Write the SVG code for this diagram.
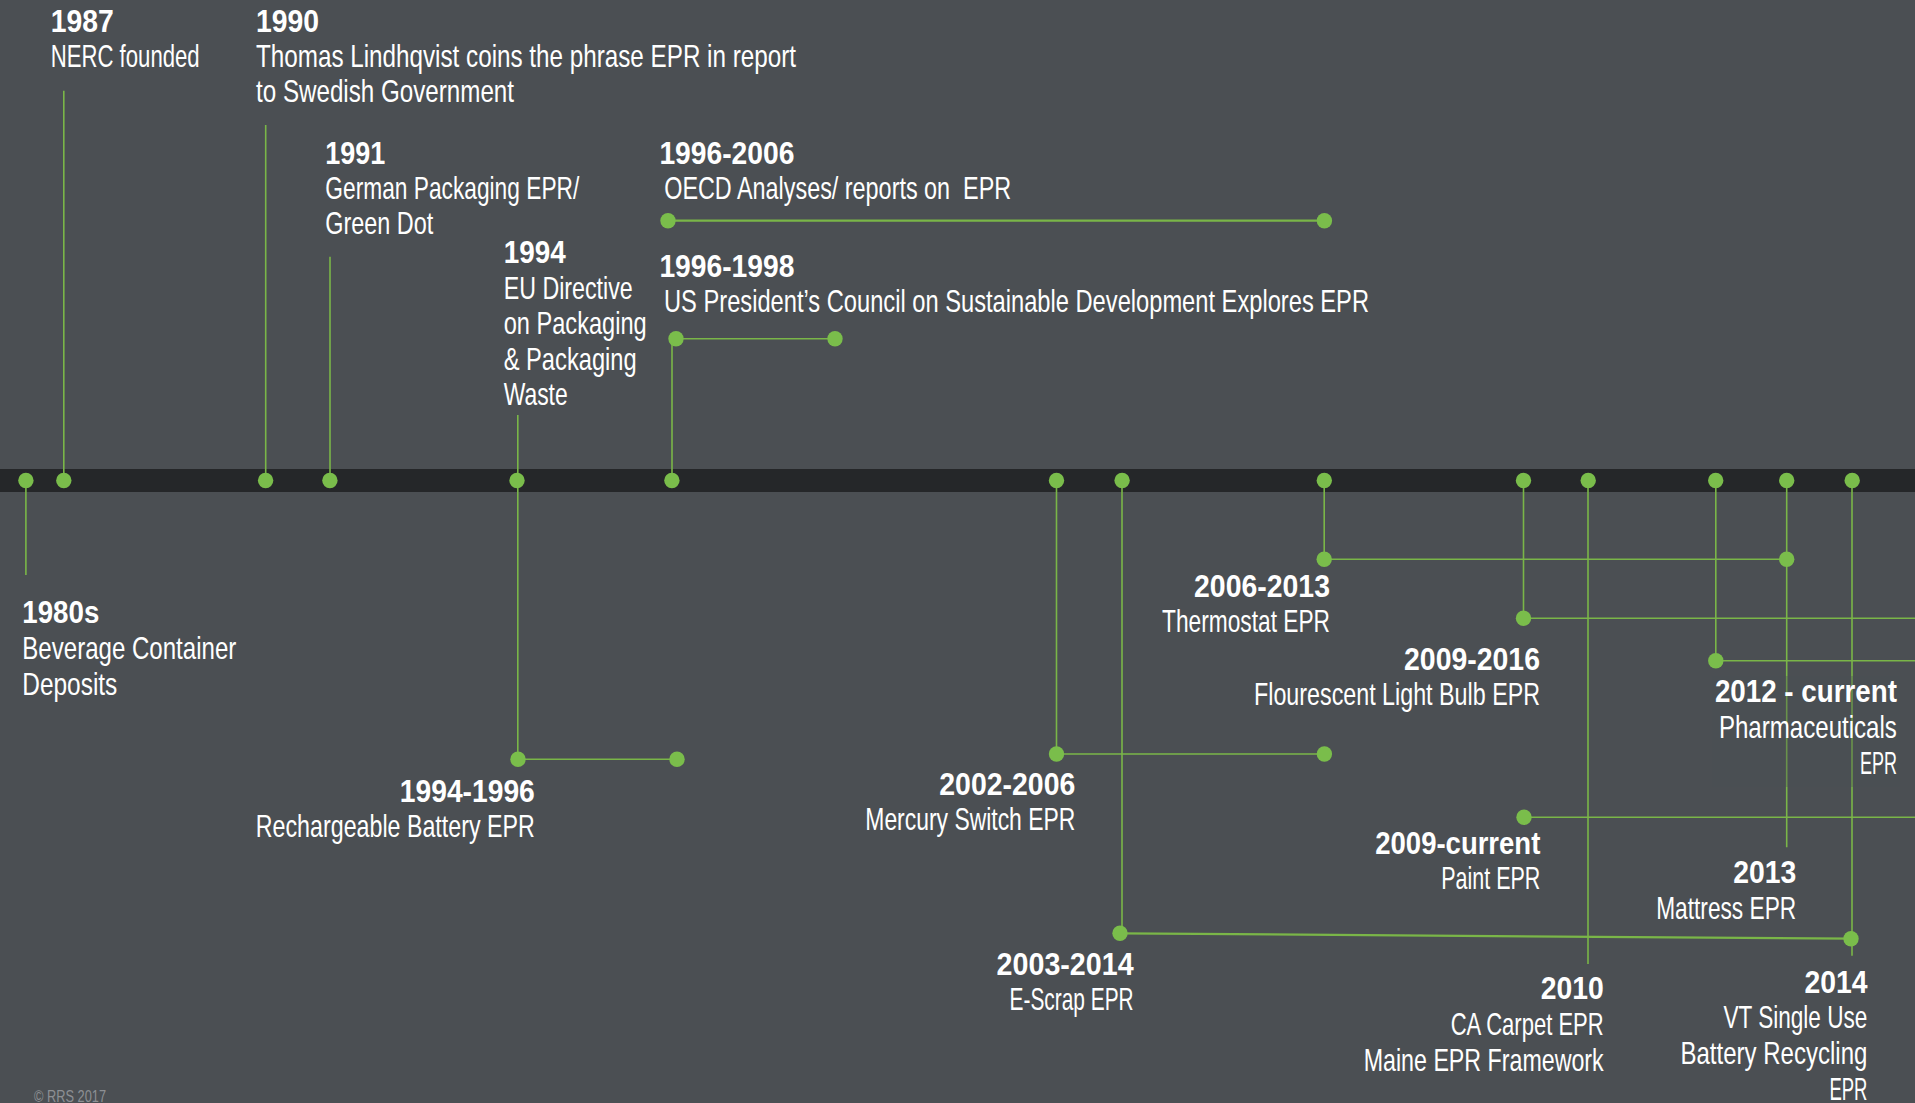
<svg xmlns="http://www.w3.org/2000/svg" width="1915" height="1103" viewBox="0 0 1915 1103">
<style>
.yr{font-family:"Liberation Sans Narrow","Liberation Sans",Arial,sans-serif;font-weight:bold;font-size:31.5px;fill:#ffffff}
.tx{font-family:"Liberation Sans Narrow","Liberation Sans",Arial,sans-serif;font-size:31.5px;fill:#ffffff}
.r{text-anchor:end}
.cp{font-family:"Liberation Sans Narrow","Liberation Sans",Arial,sans-serif;font-size:16px;fill:#8d9094}
.ln{stroke:#7ab648;stroke-width:1.6;fill:none}
.lw{stroke:#7ab648;stroke-width:2.2;fill:none}
.dot{fill:#7abd4b}
</style>
<rect x="0" y="0" width="1915" height="1103" fill="#4b4f53"/>
<rect x="0" y="469" width="1915" height="23" fill="#252729"/>

<g id="connectors">
  <line class="ln" x1="63.8" y1="90.7" x2="63.8" y2="480.5"/>
  <line class="ln" x1="265.7" y1="125" x2="265.7" y2="480.5"/>
  <line class="ln" x1="330" y1="256.7" x2="330" y2="480.5"/>
  <line class="ln" x1="517.8" y1="415" x2="517.8" y2="759.3"/>
  <line class="ln" x1="672" y1="339" x2="672" y2="480.5"/>
  <line class="ln" x1="25.9" y1="480.5" x2="25.9" y2="575"/>
  <line class="ln" x1="1056.5" y1="480.5" x2="1056.5" y2="754"/>
  <line class="ln" x1="1122" y1="480.5" x2="1122" y2="933.3"/>
  <line class="ln" x1="1324.2" y1="480.5" x2="1324.2" y2="559.3"/>
  <line class="ln" x1="1523.5" y1="480.5" x2="1523.5" y2="618.3"/>
  <line class="ln" x1="1588" y1="480.5" x2="1588" y2="964"/>
  <line class="ln" x1="1715.8" y1="480.5" x2="1715.8" y2="660.7"/>
  <line class="ln" x1="1786.7" y1="480.5" x2="1786.7" y2="847.3"/>
  <line class="ln" x1="1852" y1="480.5" x2="1852" y2="955.7"/>
  <line class="lw" x1="668" y1="220.7" x2="1324.4" y2="220.7"/>
  <line class="ln" x1="676" y1="338.7" x2="835" y2="338.7"/>
  <line class="ln" x1="518" y1="759.3" x2="677" y2="759.3"/>
  <line class="ln" x1="1056.5" y1="754" x2="1324.4" y2="754"/>
  <line class="ln" x1="1324.2" y1="559.3" x2="1786.7" y2="559.3"/>
  <line class="ln" x1="1523.5" y1="618.3" x2="1915" y2="618.3"/>
  <line class="ln" x1="1715.8" y1="660.7" x2="1915" y2="660.7"/>
  <line class="ln" x1="1524" y1="817.3" x2="1915" y2="817.3"/>
  <line class="lw" x1="1120" y1="933.3" x2="1851" y2="938.7"/>
</g>
<rect x="1712" y="676" width="188" height="111" fill="#4b4f53" opacity="0.35"/>

<g id="band-dots">
  <circle class="dot" cx="25.9" cy="480.5" r="7.7"/>
  <circle class="dot" cx="63.8" cy="480.5" r="7.7"/>
  <circle class="dot" cx="265.6" cy="480.5" r="7.7"/>
  <circle class="dot" cx="329.9" cy="480.5" r="7.7"/>
  <circle class="dot" cx="517" cy="480.5" r="7.7"/>
  <circle class="dot" cx="671.9" cy="480.5" r="7.7"/>
  <circle class="dot" cx="1056.5" cy="480.5" r="7.7"/>
  <circle class="dot" cx="1122.1" cy="480.5" r="7.7"/>
  <circle class="dot" cx="1324.3" cy="480.5" r="7.7"/>
  <circle class="dot" cx="1523.5" cy="480.5" r="7.7"/>
  <circle class="dot" cx="1588.2" cy="480.5" r="7.7"/>
  <circle class="dot" cx="1715.7" cy="480.5" r="7.7"/>
  <circle class="dot" cx="1786.7" cy="480.5" r="7.7"/>
  <circle class="dot" cx="1852.2" cy="480.5" r="7.7"/>
</g>

<g id="e1987">
  <text class="yr" x="50.7" y="31.7" textLength="63" lengthAdjust="spacingAndGlyphs">1987</text>
  <text class="tx" x="50.7" y="66.7" textLength="149" lengthAdjust="spacingAndGlyphs">NERC founded</text>
</g>
<g id="e1990">
  <text class="yr" x="256" y="31.7" textLength="63" lengthAdjust="spacingAndGlyphs">1990</text>
  <text class="tx" x="256" y="66.7" textLength="540" lengthAdjust="spacingAndGlyphs">Thomas Lindhqvist coins the phrase EPR in report</text>
  <text class="tx" x="256" y="101.7" textLength="258" lengthAdjust="spacingAndGlyphs">to Swedish Government</text>
</g>
<g id="e1991">
  <text class="yr" x="325.3" y="164" textLength="60" lengthAdjust="spacingAndGlyphs">1991</text>
  <text class="tx" x="325.3" y="199" textLength="254" lengthAdjust="spacingAndGlyphs">German Packaging EPR/</text>
  <text class="tx" x="325.3" y="234.3" textLength="108" lengthAdjust="spacingAndGlyphs">Green Dot</text>
</g>
<g id="e1994">
  <text class="yr" x="503.7" y="263.3" textLength="62" lengthAdjust="spacingAndGlyphs">1994</text>
  <text class="tx" x="503.7" y="298.5" textLength="129" lengthAdjust="spacingAndGlyphs">EU Directive</text>
  <text class="tx" x="503.7" y="334" textLength="143" lengthAdjust="spacingAndGlyphs">on Packaging</text>
  <text class="tx" x="503.7" y="369.5" textLength="133" lengthAdjust="spacingAndGlyphs">&amp; Packaging</text>
  <text class="tx" x="503.7" y="405" textLength="64" lengthAdjust="spacingAndGlyphs">Waste</text>
</g>
<g id="e1996-2006">
  <circle class="dot" cx="668" cy="220.7" r="7.7"/>
  <circle class="dot" cx="1324.4" cy="220.7" r="7.7"/>
  <text class="yr" x="659.4" y="164.3" textLength="135" lengthAdjust="spacingAndGlyphs">1996-2006</text>
  <text class="tx" x="664.2" y="199.3" textLength="347" lengthAdjust="spacingAndGlyphs" xml:space="preserve">OECD Analyses/ reports on  EPR</text>
</g>
<g id="e1996-1998">
  <circle class="dot" cx="676" cy="338.7" r="7.7"/>
  <circle class="dot" cx="835" cy="338.7" r="7.7"/>
  <text class="yr" x="659.4" y="276.7" textLength="135" lengthAdjust="spacingAndGlyphs">1996-1998</text>
  <text class="tx" x="664" y="311.7" textLength="705" lengthAdjust="spacingAndGlyphs">US President’s Council on Sustainable Development Explores EPR</text>
</g>

<g id="e1980s">
  <text class="yr" x="22.3" y="622.7" textLength="77" lengthAdjust="spacingAndGlyphs">1980s</text>
  <text class="tx" x="22.3" y="659" textLength="214" lengthAdjust="spacingAndGlyphs">Beverage Container</text>
  <text class="tx" x="22.3" y="695" textLength="95" lengthAdjust="spacingAndGlyphs">Deposits</text>
</g>
<g id="e1994-1996">
  <circle class="dot" cx="518" cy="759.3" r="7.7"/>
  <circle class="dot" cx="677" cy="759.3" r="7.7"/>
  <text class="yr r" x="534.8" y="801.7" textLength="135" lengthAdjust="spacingAndGlyphs">1994-1996</text>
  <text class="tx r" x="534.8" y="836.7" textLength="279" lengthAdjust="spacingAndGlyphs">Rechargeable Battery EPR</text>
</g>
<g id="e2002-2006">
  <circle class="dot" cx="1056.5" cy="754" r="7.7"/>
  <circle class="dot" cx="1324.4" cy="754" r="7.7"/>
  <text class="yr r" x="1075.3" y="795" textLength="136" lengthAdjust="spacingAndGlyphs">2002-2006</text>
  <text class="tx r" x="1075.3" y="830" textLength="210" lengthAdjust="spacingAndGlyphs">Mercury Switch EPR</text>
</g>
<g id="e2003-2014">
  <circle class="dot" cx="1120" cy="933.3" r="7.7"/>
  <circle class="dot" cx="1851" cy="938.7" r="7.7"/>
  <text class="yr r" x="1133.6" y="975" textLength="137" lengthAdjust="spacingAndGlyphs">2003-2014</text>
  <text class="tx r" x="1133.6" y="1010" textLength="124" lengthAdjust="spacingAndGlyphs">E-Scrap EPR</text>
</g>
<g id="e2006-2013">
  <circle class="dot" cx="1324.2" cy="559.3" r="7.7"/>
  <circle class="dot" cx="1786.7" cy="559.3" r="7.7"/>
  <text class="yr r" x="1330" y="596.7" textLength="136" lengthAdjust="spacingAndGlyphs">2006-2013</text>
  <text class="tx r" x="1330" y="632.3" textLength="168" lengthAdjust="spacingAndGlyphs">Thermostat EPR</text>
</g>
<g id="e2009-2016">
  <circle class="dot" cx="1523.5" cy="618.3" r="7.7"/>
  <text class="yr r" x="1540" y="670" textLength="136" lengthAdjust="spacingAndGlyphs">2009-2016</text>
  <text class="tx r" x="1540" y="705" textLength="286" lengthAdjust="spacingAndGlyphs">Flourescent Light Bulb EPR</text>
</g>
<g id="e2009-current">
  <circle class="dot" cx="1524" cy="817.3" r="7.7"/>
  <text class="yr r" x="1540.3" y="853.8" textLength="165" lengthAdjust="spacingAndGlyphs">2009-current</text>
  <text class="tx r" x="1540.3" y="889.3" textLength="99" lengthAdjust="spacingAndGlyphs">Paint EPR</text>
</g>
<g id="e2010">
  <text class="yr r" x="1603.7" y="999.3" textLength="63" lengthAdjust="spacingAndGlyphs">2010</text>
  <text class="tx r" x="1603.7" y="1035" textLength="153" lengthAdjust="spacingAndGlyphs">CA Carpet EPR</text>
  <text class="tx r" x="1603.7" y="1070.7" textLength="240" lengthAdjust="spacingAndGlyphs">Maine EPR Framework</text>
</g>
<g id="e2012-current">
  <circle class="dot" cx="1715.8" cy="660.7" r="7.7"/>
  <text class="yr r" x="1896.9" y="701.7" textLength="182" lengthAdjust="spacingAndGlyphs">2012 - current</text>
  <text class="tx r" x="1896.9" y="737.7" textLength="178" lengthAdjust="spacingAndGlyphs">Pharmaceuticals</text>
  <text class="tx r" x="1896.9" y="774.3" textLength="37" lengthAdjust="spacingAndGlyphs">EPR</text>
</g>
<g id="e2013">
  <text class="yr r" x="1796.2" y="883.3" textLength="63" lengthAdjust="spacingAndGlyphs">2013</text>
  <text class="tx r" x="1796.2" y="919.3" textLength="140" lengthAdjust="spacingAndGlyphs">Mattress EPR</text>
</g>
<g id="e2014">
  <text class="yr r" x="1867.4" y="993.3" textLength="63" lengthAdjust="spacingAndGlyphs">2014</text>
  <text class="tx r" x="1867.4" y="1028.3" textLength="144" lengthAdjust="spacingAndGlyphs">VT Single Use</text>
  <text class="tx r" x="1867.4" y="1064" textLength="187" lengthAdjust="spacingAndGlyphs">Battery Recycling</text>
  <text class="tx r" x="1867.4" y="1100" textLength="38" lengthAdjust="spacingAndGlyphs">EPR</text>
</g>
<g id="copyright">
  <text class="cp" x="34" y="1101.7" textLength="72" lengthAdjust="spacingAndGlyphs">© RRS 2017</text>
</g>
</svg>
